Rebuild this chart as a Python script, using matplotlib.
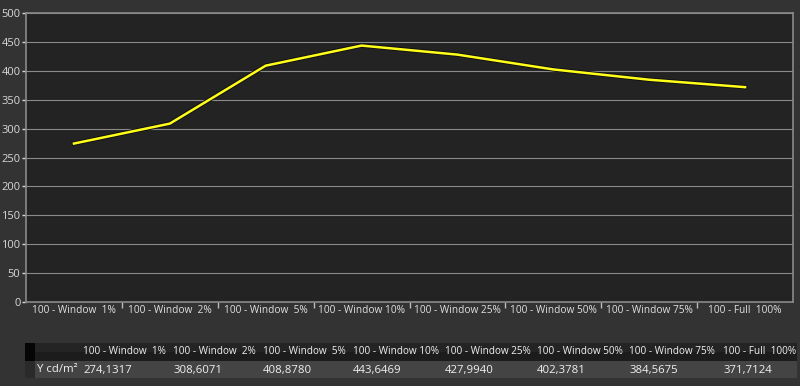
import matplotlib.pyplot as plt
import matplotlib.patheffects as pe
from matplotlib.patches import Rectangle
import numpy as np

categories = ["100 - Window  1%", "100 - Window  2%", "100 - Window  5%",
              "100 - Window 10%", "100 - Window 25%", "100 - Window 50%",
              "100 - Window 75%", "100 - Full  100%"]
values = [274.1317, 308.6071, 408.8780, 443.6469, 427.9940, 402.3781,
          384.5675, 371.7124]
value_text = ["274,1317", "308,6071", "408,8780", "443,6469", "427,9940",
              "402,3781", "384,5675", "371,7124"]
row_label = "Y cd/m²"

W, H = 800, 386
fig = plt.figure(figsize=(8, 3.86), dpi=100, facecolor="#333333")
ax = fig.add_axes([26 / W, 1 - 302 / H, (793 - 26) / W, (302 - 13) / H])
ax.set_facecolor("#232323")

x = np.arange(len(categories))
ax.set_xlim(-0.5, len(categories) - 0.5)
ax.set_ylim(0, 500)

# grid with dark shadow
for yv in range(50, 501, 50):
    ax.axhline(yv, color="#111111", lw=2.2, zorder=1)
    ax.axhline(yv, color="#8a8a8a", lw=1.0, zorder=1.5)

ax.plot(x, values, color="#ffff1a", lw=1.8, zorder=3,
        path_effects=[pe.Stroke(linewidth=3.2, foreground="#111111"), pe.Normal()])

for s in ax.spines.values():
    s.set_color("#8a8a8a")
    s.set_linewidth(1.2)

ax.set_yticks(range(0, 501, 50))
ax.tick_params(axis="y", colors="#d8d8d8", length=3, width=1, labelsize=8, pad=1)
ax.set_xticks(x)
ax.set_xticklabels(categories)
ax.set_xticks(np.arange(len(categories) - 1) + 0.5, minor=True)
ax.tick_params(axis="x", which="major", length=0, colors="#e0e0e0", labelsize=7.3, pad=2)
ax.tick_params(axis="x", which="minor", length=4, width=1, color="#bbbbbb")
for lab in ax.get_yticklabels() + ax.get_xticklabels():
    lab.set_fontfamily("Open Sans")

# bottom table
def fx(px):
    return px / W

def fy(py):
    return 1 - py / H

fig.patches.append(Rectangle((fx(25), fy(361)), fx(772), 18 / H, transform=fig.transFigure,
                             facecolor="#1c1c1c", edgecolor="none"))
fig.patches.append(Rectangle((fx(25), fy(352)), fx(772), 9 / H, transform=fig.transFigure,
                             facecolor="#242424", edgecolor="none"))
fig.patches.append(Rectangle((fx(25), fy(361)), fx(10), 18 / H, transform=fig.transFigure,
                             facecolor="#050505", edgecolor="none"))
fig.patches.append(Rectangle((fx(25), fy(378)), fx(772), 17 / H, transform=fig.transFigure,
                             facecolor="#444444", edgecolor="none"))
fig.patches.append(Rectangle((fx(25), fy(378)), fx(10), 17 / H, transform=fig.transFigure,
                             facecolor="#2a2a2a", edgecolor="none"))

col_x = [83, 173, 263, 353, 445, 537, 629, 723]
for cx, name, vt in zip(col_x, categories, value_text):
    fig.text(fx(cx), fy(352), name, color="#f0f0f0", fontsize=7.2,
             family="Open Sans", va="center", ha="left")
    fig.text(fx(cx), fy(370), vt, color="#f0f0f0", fontsize=8.2,
             family="Open Sans", va="center", ha="left")
fig.text(fx(37), fy(370), row_label, color="#f0f0f0", fontsize=8.2,
         family="Open Sans", va="center", ha="left")

fig.savefig("out.png", dpi=100, facecolor=fig.get_facecolor())
